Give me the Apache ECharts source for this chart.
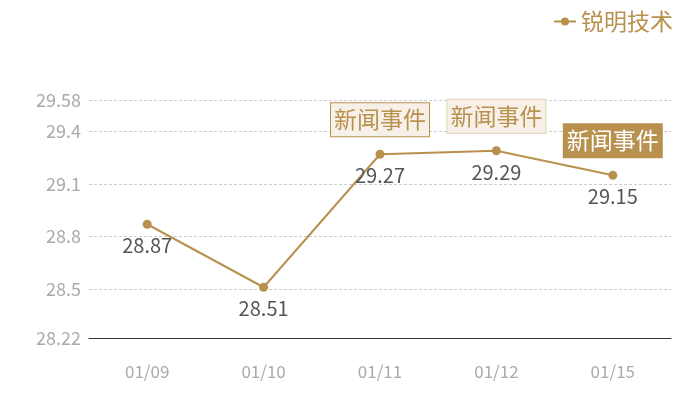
<!DOCTYPE html>
<html>
<head>
<meta charset="utf-8">
<script src="https://cdn.jsdelivr.net/npm/echarts@6/dist/echarts.min.js"></script>
<style>
  html, body { margin: 0; padding: 0; background: #fff; }
  #main { width: 700px; height: 400px; }
</style>
</head>
<body>
<div id="main"></div>
<script>
var dates = ['01/09', '01/10', '01/11', '01/12', '01/15']
var prices = [28.87, 28.51, 29.27, 29.29, 29.15]
var yTicks = [28.22, 28.5, 28.8, 29.1, 29.4, 29.58]
var eventDates = ['01/11', '01/12', '01/15']
var eventName = '新闻事件'

var gold = '#b8914f'
var font = '"Noto Sans CJK SC", "Noto Sans", sans-serif'

var chart = echarts.init(document.getElementById('main'))

// 事件标注的样式
var eventStyles = [
  { backgroundColor: '#f6f0e8', borderColor: gold, color: gold },
  { backgroundColor: '#f6f0e8', borderColor: '#e2d2b6', color: gold },
  { backgroundColor: gold, borderColor: gold, color: '#fff' }
]

var eventPoints = eventDates.map(function (d, i) {
  var s = eventStyles[i]
  return {
    coord: [d, prices[dates.indexOf(d)]],
    label: {
      backgroundColor: s.backgroundColor,
      borderColor: s.borderColor,
      color: s.color
    }
  }
})

var option = {
  textStyle: { fontFamily: font },
  legend: {
    data: ['锐明技术'],
    right: 22,
    top: 5,
    itemWidth: 22,
    itemHeight: 10,
    textStyle: { color: gold, fontSize: 23, fontFamily: font }
  },
  grid: { left: 89, right: 29, top: 100, bottom: 62 },
  xAxis: {
    type: 'category',
    data: dates,
    boundaryGap: true,
    axisLine: { lineStyle: { color: '#333', width: 1 } },
    axisTick: { show: false },
    axisLabel: { color: '#aaa', fontSize: 17, margin: 25, fontFamily: font }
  },
  yAxis: {
    type: 'value',
    min: 28.22,
    max: 29.58,
    axisLine: { show: false },
    axisTick: { show: false, customValues: yTicks },
    axisLabel: { color: '#aaa', fontSize: 18, margin: 8, customValues: yTicks, fontFamily: font },
    splitLine: { lineStyle: { color: '#ccc', type: [3, 2] } }
  },
  series: [
    {
      name: '锐明技术',
      type: 'line',
      data: prices,
      symbol: 'circle',
      symbolSize: 9,
      itemStyle: { color: gold },
      lineStyle: { color: gold, width: 2 },
      label: {
        show: true,
        position: 'bottom',
        distance: 7,
        color: '#555',
        fontSize: 20,
        fontFamily: font
      },
      markPoint: {
        symbol: 'circle',
        symbolSize: 0,
        label: {
          show: true,
          position: 'top',
          distance: 18,
          formatter: eventName,
          fontSize: 23,
          fontFamily: font,
          borderWidth: 1,
          padding: [5, 3]
        },
        data: eventPoints
      }
    }
  ]
}

chart.setOption(option)
</script>
</body>
</html>
